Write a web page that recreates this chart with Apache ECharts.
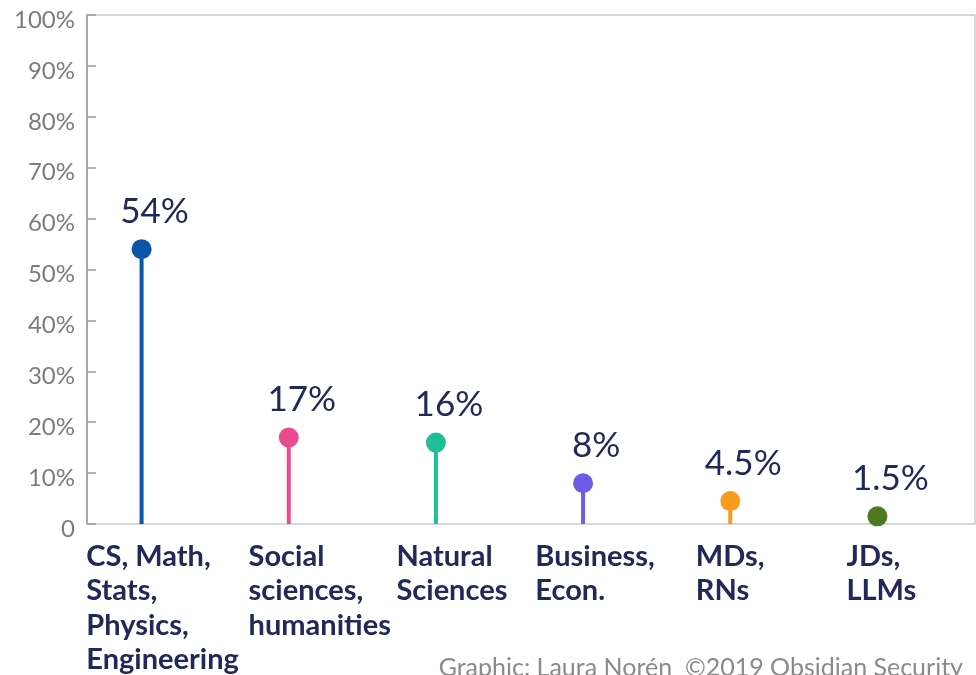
<!DOCTYPE html>
<html>
<head>
<meta charset="utf-8">
<script src="https://cdn.jsdelivr.net/npm/echarts@6/dist/echarts.min.js"></script>
<style>
  html, body { margin: 0; padding: 0; background: #fff; }
  #chart { width: 976px; height: 675px; }
</style>
</head>
<body>
<div id="chart"></div>
<script>
// Degree fields and their share
const categories = [
  'CS, Math,\nStats,\nPhysics,\nEngineering',
  'Social\nsciences,\nhumanities',
  'Natural\nSciences',
  'Business,\nEcon.',
  'MDs,\nRNs',
  'JDs,\nLLMs'
];
const values = [54, 17, 16, 8, 4.5, 1.5];
const valueLabels = ['54%', '17%', '16%', '8%', '4.5%', '1.5%'];
const yTickLabels = ['0', '10%', '20%', '30%', '40%', '50%', '60%', '70%', '80%', '90%', '100%'];

// styling
const colors = ['#0b55a8', '#ea4a8f', '#1dbf95', '#6c5ce8', '#f99b1d', '#4d7a1e'];
const labelShift = [42, 62, 32, 24, 0, 8]; // left padding on each category label
const navy = '#23285a';
const font = 'Lato, "Noto Sans", sans-serif';

const chart = echarts.init(document.getElementById('chart'), null, { renderer: 'canvas' });

chart.setOption({
  animation: false,
  backgroundColor: '#fff',
  title: {
    text: 'Graphic: Laura Norén  ©2019 Obsidian Security',
    right: 8,
    top: 650,
    textStyle: { fontFamily: font, fontSize: 25, fontWeight: 'normal', color: '#8a8a8a' }
  },
  grid: [
    // frame with the y axis
    { left: 87, right: 1, top: 15, bottom: 151, show: true, borderColor: '#b0b0b0', borderWidth: 1 },
    // lollipop area
    { left: 68, width: 883, top: 15, bottom: 151 }
  ],
  xAxis: [
    { gridIndex: 0, type: 'category', data: [''], show: false },
    {
      gridIndex: 1,
      type: 'category',
      data: categories.map((c, i) => ({ value: c, textStyle: { padding: [0, 0, 0, labelShift[i]] } })),
      axisLine: { show: false },
      axisTick: { show: false },
      axisLabel: {
        interval: 0,
        margin: 15,
        align: 'center',
        verticalAlign: 'top',
        formatter: v => v.split('\n').map(s => '{t|' + s + '}').join('\n'),
        rich: {
          t: { align: 'left', fontFamily: font, fontSize: 29, fontWeight: 'bold', color: navy, lineHeight: 34.5 }
        }
      }
    }
  ],
  yAxis: [
    {
      gridIndex: 0,
      type: 'value',
      min: 0, max: 100, interval: 10,
      axisLine: { show: true, lineStyle: { color: '#9a9a9a', width: 1.5 } },
      axisTick: { show: true, inside: true, length: 9, lineStyle: { color: '#9a9a9a', width: 1.5 } },
      splitLine: { show: false },
      axisLabel: {
        margin: 12,
        formatter: v => '{y|' + yTickLabels[Math.round(v / 10)] + '}',
        rich: {
          y: { fontFamily: font, fontSize: 24, color: '#7c7c7c', padding: [10, 0, 0, 0] }
        }
      }
    },
    { gridIndex: 1, type: 'value', min: 0, max: 100, show: false }
  ],
  series: [
    {
      type: 'bar',
      xAxisIndex: 1, yAxisIndex: 1,
      barWidth: 4,
      z: 2,
      data: values.map((v, i) => ({ value: v, itemStyle: { color: colors[i] } }))
    },
    {
      type: 'scatter',
      xAxisIndex: 1, yAxisIndex: 1,
      symbol: 'circle',
      symbolSize: 20,
      z: 3,
      itemStyle: { opacity: 1 },
      data: values.map((v, i) => ({ value: v, itemStyle: { color: colors[i], opacity: 1 } })),
      label: {
        show: true,
        position: 'top',
        distance: 10,
        offset: [13, 0],
        fontFamily: font, fontSize: 35, color: navy,
        formatter: p => valueLabels[p.dataIndex]
      }
    }
  ]
});
</script>
</body>
</html>
